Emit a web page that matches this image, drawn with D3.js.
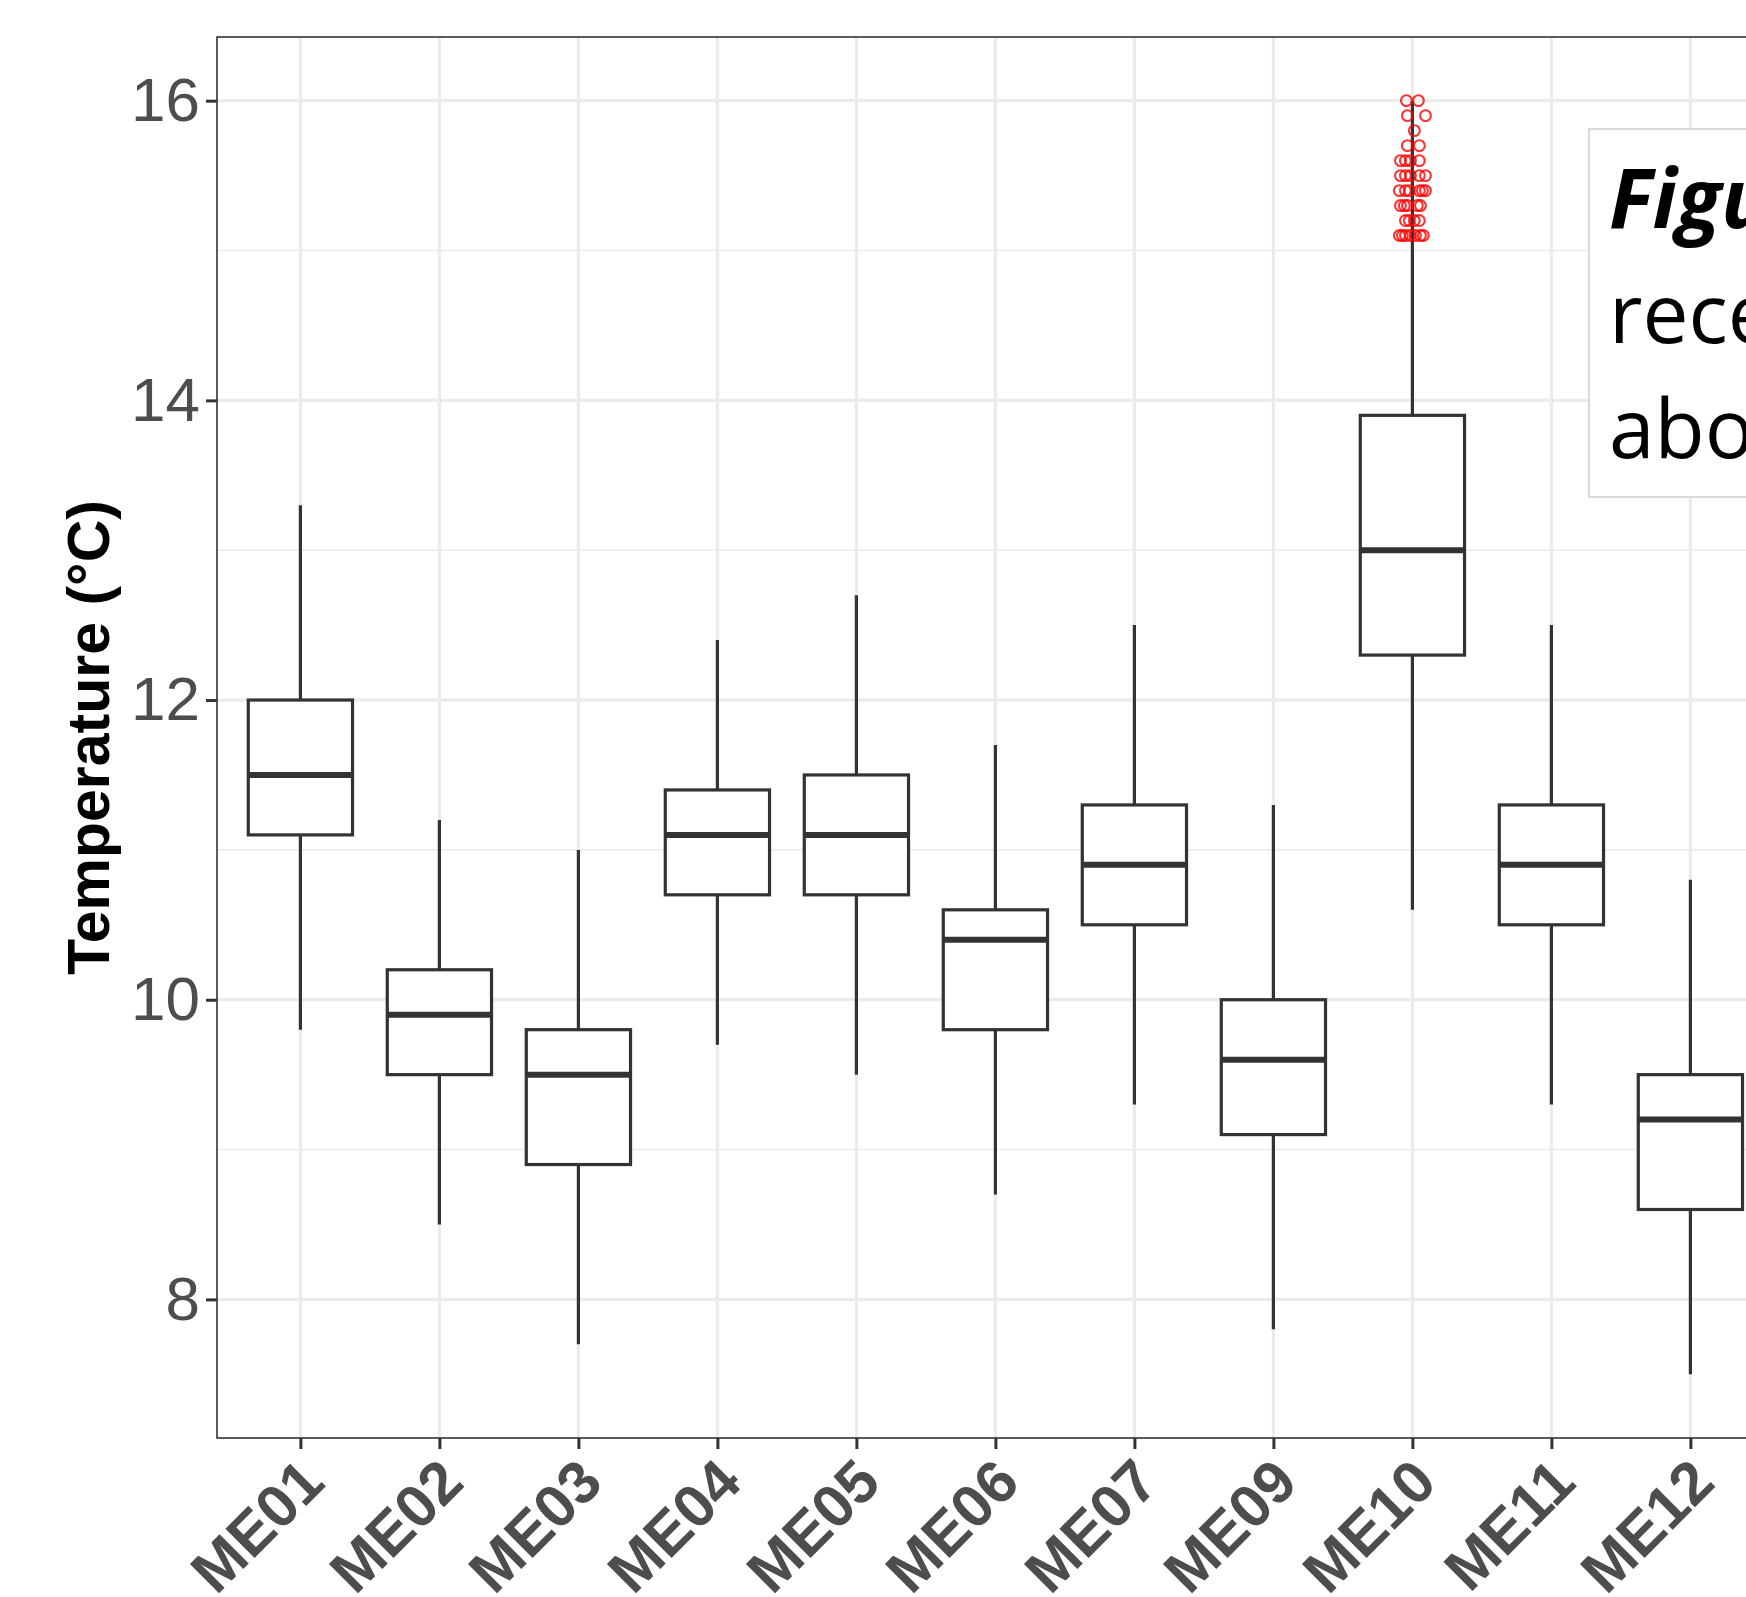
<!DOCTYPE html>
<html>
<head>
<meta charset="utf-8">
<script src="https://cdn.jsdelivr.net/npm/d3@7"></script>
<style>
  html, body { margin: 0; padding: 0; background: #fff; overflow: hidden; }
  svg { display: block; }
</style>
</head>
<body>
<svg id="chart" width="1746" height="1597"></svg>
<script>
// box statistics per site (°C)
let sites       = ["ME01","ME02","ME03","ME04","ME05","ME06","ME07","ME09","ME10","ME11","ME12"];
let whiskerLow  = [9.8, 8.5, 7.7, 9.7, 9.5, 8.7, 9.3, 7.8, 10.6, 9.3, 7.5];
let lowerQ      = [11.1, 9.5, 8.9, 10.7, 10.7, 9.8, 10.5, 9.1, 12.3, 10.5, 8.6];
let medians     = [11.5, 9.9, 9.5, 11.1, 11.1, 10.4, 10.9, 9.6, 13.0, 10.9, 9.2];
let upperQ      = [12.0, 10.2, 9.8, 11.4, 11.5, 10.6, 11.3, 10.0, 13.9, 11.3, 9.5];
let whiskerHigh = [13.3, 11.2, 11.0, 12.4, 12.7, 11.7, 12.5, 11.3, 16.0, 12.5, 10.8];

// ME10 readings above 15 °C (red points), with their horizontal jitter in category steps
let hotSite   = "ME10";
let hotValues = [16.0, 16.0, 15.9, 15.9, 15.8, 15.7, 15.7,
                 15.6, 15.6, 15.6, 15.6,
                 15.5, 15.5, 15.5, 15.5, 15.5,
                 15.4, 15.4, 15.4, 15.4, 15.4, 15.4,
                 15.3, 15.3, 15.3, 15.3, 15.3,
                 15.2, 15.2, 15.2, 15.2,
                 15.1, 15.1, 15.1, 15.1, 15.1, 15.1, 15.1];
let hotJitter = [-0.043, 0.043, -0.036, 0.094, 0.014, -0.036, 0.050,
                 -0.086, -0.050, -0.014, 0.050,
                 -0.086, -0.050, -0.014, 0.050, 0.094,
                 -0.094, -0.050, -0.022, 0.050, 0.072, 0.094,
                 -0.086, -0.058, -0.036, 0.036, 0.058,
                 -0.050, -0.022, 0.014, 0.050,
                 -0.094, -0.072, -0.050, -0.014, 0.022, 0.058, 0.079];

let yTicks   = [8, 10, 12, 14, 16];
let yMinor   = [9, 11, 13, 15];
let yTitle   = "Temperature (°C)";
let noteLines = ["Figure", "received", "above"];

let margin = {top: 37, left: 217, bottom: 159};
let width  = 1746;
let height = 1597;
let step   = 139;
let panelRight = 1760;   // panel runs past the right edge of the picture

var svg = d3.select("#chart");

// discrete x scale, ggplot style expansion of 0.6 step on the left
var x = d3.scalePoint()
          .domain(sites)
          .range([margin.left + 0.6 * step, margin.left + 0.6 * step + (sites.length - 1) * step]);

// y domain = data range plus 5% on each side
var yLo = d3.min(whiskerLow), yHi = d3.max(whiskerHigh.concat(hotValues));
var pad = (yHi - yLo) * 0.05;
var y = d3.scaleLinear()
          .domain([yLo - pad, yHi + pad])
          .range([height - margin.bottom, margin.top]);

var panelBottom = height - margin.bottom;
var grid = svg.append("g");

// minor horizontal grid
grid.selectAll("line.minor").data(yMinor).enter().append("line")
    .attr("x1", margin.left).attr("x2", panelRight)
    .attr("y1", d => y(d)).attr("y2", d => y(d))
    .attr("stroke", "#ebebeb").attr("stroke-width", 1.6);

// major horizontal grid
grid.selectAll("line.majorY").data(yTicks).enter().append("line")
    .attr("x1", margin.left).attr("x2", panelRight)
    .attr("y1", d => y(d)).attr("y2", d => y(d))
    .attr("stroke", "#ebebeb").attr("stroke-width", 3.2);

// vertical grid at each site
grid.selectAll("line.majorX").data(sites).enter().append("line")
    .attr("x1", d => x(d)).attr("x2", d => x(d))
    .attr("y1", margin.top).attr("y2", panelBottom)
    .attr("stroke", "#ebebeb").attr("stroke-width", 3.2);

// boxes
var boxW = step * 0.75;
var boxes = svg.append("g").selectAll("g").data(sites).enter().append("g");

boxes.append("line")   // whisker
    .attr("x1", d => x(d)).attr("x2", d => x(d))
    .attr("y1", (d, i) => y(whiskerLow[i]))
    .attr("y2", (d, i) => y(whiskerHigh[i]))
    .attr("stroke", "#333333").attr("stroke-width", 3.2);

boxes.append("rect")
    .attr("x", d => x(d) - boxW / 2)
    .attr("width", boxW)
    .attr("y", (d, i) => y(upperQ[i]))
    .attr("height", (d, i) => y(lowerQ[i]) - y(upperQ[i]))
    .attr("fill", "#fff")
    .attr("stroke", "#333333").attr("stroke-width", 3.2);

boxes.append("line")   // median
    .attr("x1", d => x(d) - boxW / 2).attr("x2", d => x(d) + boxW / 2)
    .attr("y1", (d, i) => y(medians[i])).attr("y2", (d, i) => y(medians[i]))
    .attr("stroke", "#333333").attr("stroke-width", 6);

// red points for ME10
svg.append("g").selectAll("circle").data(hotValues).enter().append("circle")
    .attr("cx", (d, i) => x(hotSite) + hotJitter[i] * step)
    .attr("cy", d => y(d))
    .attr("r", 5.4)
    .attr("fill", "none")
    .attr("stroke", "#ff0000")
    .attr("stroke-opacity", 0.8)
    .attr("stroke-width", 2.1);

// panel border
svg.append("rect")
    .attr("x", margin.left).attr("y", margin.top)
    .attr("width", panelRight - margin.left)
    .attr("height", panelBottom - margin.top)
    .attr("fill", "none")
    .attr("stroke", "#333333").attr("stroke-width", 1.6);

// y axis
var yAxis = svg.append("g")
    .attr("transform", "translate(" + margin.left + ",0)")
    .call(d3.axisLeft(y).tickValues(yTicks).tickSize(11).tickPadding(6).tickFormat(d3.format("d")));
yAxis.select(".domain").remove();
yAxis.selectAll(".tick line").attr("stroke", "#333333").attr("stroke-width", 3);
yAxis.selectAll(".tick text")
    .attr("fill", "#4d4d4d")
    .style("font-family", "'Liberation Sans', Arial, sans-serif")
    .style("font-size", "62px");

// x axis
var xAxis = svg.append("g")
    .attr("transform", "translate(0," + panelBottom + ")")
    .call(d3.axisBottom(x).tickSize(11));
xAxis.select(".domain").remove();
xAxis.selectAll(".tick line").attr("stroke", "#333333").attr("stroke-width", 3);
xAxis.selectAll(".tick text")
    .attr("x", 0).attr("y", 0)
    .attr("dy", "0.76em")
    .attr("text-anchor", "end")
    .attr("transform", "translate(-6,15) rotate(-45)")
    .attr("fill", "#4d4d4d")
    .style("font-family", "'Liberation Sans', Arial, sans-serif")
    .style("font-weight", "bold")
    .style("font-size", "60px");

// y title
svg.append("text")
    .attr("transform", "translate(109," + (margin.top + panelBottom) / 2 + ") rotate(-90)")
    .attr("text-anchor", "middle")
    .attr("fill", "#000")
    .style("font-family", "'Liberation Sans', Arial, sans-serif")
    .style("font-weight", "bold")
    .style("font-size", "59px")
    .text(yTitle);

// caption box lying over the top right of the plot
var note = svg.append("g");
note.append("rect")
    .attr("x", 1589).attr("y", 129)
    .attr("width", 400).attr("height", 368)
    .attr("fill", "#fff")
    .attr("stroke", "#d9d9d9").attr("stroke-width", 2);
note.selectAll("text").data(noteLines).enter().append("text")
    .attr("x", 1609)
    .attr("y", (d, i) => 228 + i * 115)
    .attr("fill", "#000")
    .style("font-family", "'Open Sans', 'Noto Sans', sans-serif")
    .style("font-size", "82px")
    .style("font-weight", (d, i) => i === 0 ? "bold" : "normal")
    .style("font-style", (d, i) => i === 0 ? "italic" : "normal")
    .text(d => d);
</script>
</body>
</html>
